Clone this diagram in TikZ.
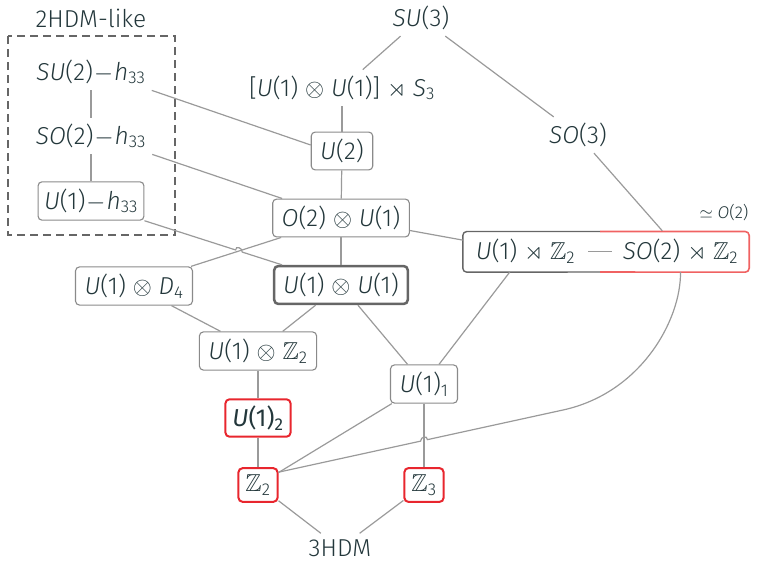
\documentclass[tikz,border=0pt]{standalone}
\usepackage{fix-cm}
\usepackage{amssymb}
\usepackage{fontspec}
\setmainfont{Fira Sans Light}[BoldFont={Fira Sans},BoldItalicFont={Fira Sans Italic}]
\usetikzlibrary{calc}
\definecolor{txt}{HTML}{23373B}
\definecolor{ln}{HTML}{9A9A9A}
\definecolor{bx}{HTML}{8A8A8A}
\definecolor{dk}{HTML}{666666}
\definecolor{rd}{HTML}{E8262E}
\definecolor{lrd}{HTML}{F06262}
\newcommand\I[1]{\textit{#1}}
\newcommand\ZZ{$\mathbb{Z}$}
\newcommand\mn{\kern1pt$-$\kern1pt}
\begin{document}
\begin{tikzpicture}[x=1pt,y=-1pt,font=\fontsize{24.5}{28}\selectfont,text=txt,
  lbl/.style={inner sep=6pt},
  box/.style={draw=bx,line width=1.1pt,rounded corners=4pt,inner xsep=9pt,inner ysep=7pt},
  tbox/.style={draw=dk,line width=2.5pt,rounded corners=4pt,inner xsep=9pt,inner ysep=7pt},
  rbox/.style={draw=rd,line width=2pt,rounded corners=4pt,inner xsep=7pt,inner ysep=6.5pt},
  half/.style={minimum height=41pt,inner sep=0pt},
  edge/.style={draw=ln,line width=1.2pt},
  hdmbox/.style={draw=dk,line width=2pt,dash pattern=on 8pt off 5pt}]
\useasboundingbox (0,0) rectangle (758,562);

% 2HDM-like group
\draw[hdmbox] (8,36) rectangle (175,235);
\node[lbl] (hdm) at (91,18) {2HDM-like};
\node[lbl] (su2h) at (91,72) {\I{SU}(2)\mn\I{h}\textsubscript{33}};
\node[lbl] (so2h) at (91,136) {\I{SO}(2)\mn\I{h}\textsubscript{33}};
\node[box,inner xsep=6pt] (u1h) at (91,201) {\I{U}(1)\mn\I{h}\textsubscript{33}};

% main nodes
\node[lbl] (su3) at (421,18) {\I{SU}(3)};
\node[lbl] (brk) at (342,88) {[\I{U}(1) $\otimes$ \I{U}(1)] $\rtimes$ \I{S}\textsubscript{3}};
\node[box] (u2) at (342,151) {\I{U}(2)};
\node[lbl] (so3) at (578,135) {\I{SO}(3)};
\node[box] (o2u) at (341,218) {\I{O}(2) $\otimes$ \I{U}(1)};
\node[box] (d4) at (134,286) {\I{U}(1) $\otimes$ \I{D}\textsubscript{4}};
\node[tbox] (uu) at (341,285) {\I{U}(1) $\otimes$ \I{U}(1)};
\node[box] (uz2) at (258,351) {\I{U}(1) $\otimes$ \ZZ\textsubscript{2}};
\node[box] (u1one) at (424,384) {\I{U}(1)\textsubscript{1}};
\node[rbox] (u1two) at (258,418) {\bfseries\I{U}(1)\textsubscript{2}};
\node[rbox] (z2) at (258,485) {\ZZ\textsubscript{2}};
\node[rbox] (z3) at (424,485) {\ZZ\textsubscript{3}};
\node[lbl] (hdm3) at (340,548) {3HDM};
\node[half,minimum width=125pt] (uz) at (525.5,251.5) {\I{U}(1) $\rtimes$ \ZZ\textsubscript{2}};
\node[half,minimum width=137pt] (soz) at (680.5,251.5) {\I{SO}(2) $\rtimes$ \ZZ\textsubscript{2}};
\node[font=\fontsize{17}{20}\selectfont] (o2iso) at (724,213) {$\simeq$ \I{O}(2)};

% outline of the combined box
\draw[draw=dk,line width=1.4pt,rounded corners=4pt] (600,231.5) -| (uz.south west) -- (600,272);
\draw[draw=lrd,line width=1.6pt,rounded corners=4pt] (600,231.5) -| (soz.south east) -- (600,272);

% edges
\draw[edge] (su2h) -- (so2h);
\draw[edge] (so2h) -- (u1h);
\draw[edge] (su2h.south east) -- ($(u2.west)+(0,-6)$);
\draw[edge] (so2h.south east) -- ($(o2u.north west)+(10,0)$);
\draw[edge] (su3) -- (brk);
\draw[edge] (su3) -- (so3);
\draw[edge] (brk) -- (u2);
\draw[edge] (u2) -- (o2u);
\draw[edge] (o2u) -- (uu);
\draw[edge] (o2u) -- (uz);
\draw[edge] (so3) -- (soz);
\draw[edge] (uz) -- (soz);
\draw[edge] (d4) -- (uz2);
\draw[edge] (uu) -- (uz2);
\draw[edge] (uu) -- (u1one);
\draw[edge] (uz) -- (u1one);
\draw[edge] (uz2) -- (u1two);
\draw[edge] (u1two) -- (z2);
\draw[edge] (u1one) -- (z2);
\draw[edge] (u1one) -- (z3);
\draw[edge] (z2) -- (hdm3);
\draw[edge] (z3) -- (hdm3);

% crossing with hop: U(1)-h33 to U(1)xU(1)
\coordinate (h1SE) at (u1h.south east);
\coordinate (uuNW) at ($(uu.north west)+(9,0)$);
\coordinate (d4NE) at ($(d4.north east)+(-2,0)$);
\coordinate (o2SW) at ($(o2u.south west)+(9,0)$);
\draw[edge] (d4NE) -- (o2SW);
\coordinate (x1) at (intersection of h1SE--uuNW and d4NE--o2SW);
\draw[edge] (h1SE) -- ($(x1)!3.5pt!(h1SE)$) .. controls +(0,4.5pt) and +(0,4.5pt) .. ($(x1)!3.5pt!(uuNW)$) -- (uuNW);

% curve Z2 to SO(2) x| Z2 with hop
\coordinate (zc) at (z2.32);
\coordinate (cmid) at (563,410);
\coordinate (u1S) at (u1one.south);
\coordinate (z3N) at (z3.north);
\coordinate (x2) at (intersection of zc--cmid and u1S--z3N);
\draw[edge] (zc) -- ($(x2)!3.5pt!(zc)$) .. controls +(0,4.5pt) and +(0,4.5pt) .. ($(x2)!3.5pt!(cmid)$) -- (cmid) .. controls (641,393) and (681,320) .. (soz.south);
\end{tikzpicture}
\end{document}
